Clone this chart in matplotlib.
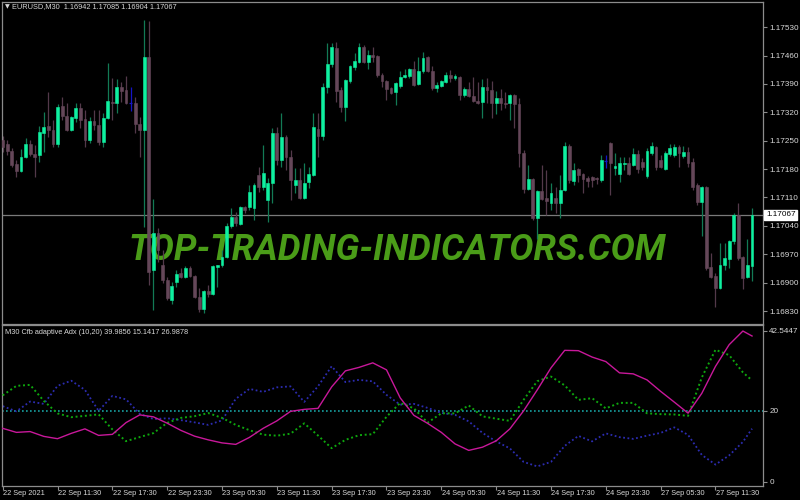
import numpy as np
import matplotlib
matplotlib.use("Agg")
import matplotlib.pyplot as plt
import matplotlib.transforms as mtrans

# EURUSD M30 candles, 22 Sep 05:30 .. 27 Sep 15:30
opens = [1.17252, 1.17242, 1.17224, 1.17192, 1.17175, 1.17210, 1.17242, 1.17217, 1.17214, 1.17269,
         1.17286, 1.17276, 1.17242, 1.17335, 1.17311, 1.17276, 1.17306, 1.17330, 1.17303, 1.17252,
         1.17298, 1.17288, 1.17246, 1.17306, 1.17345, 1.17343, 1.17382, 1.17374, 1.17343, 1.17343,
         1.17291, 1.17276, 1.17456, 1.16931, 1.17022, 1.16943, 1.16906, 1.16857, 1.16901, 1.16924,
         1.16914, 1.16936, 1.16916, 1.16864, 1.16835, 1.16879, 1.16872, 1.16938, 1.16943, 1.16963,
         1.17040, 1.17062, 1.17044, 1.17086, 1.17086, 1.17084, 1.17165, 1.17136, 1.17104, 1.17145,
         1.17269, 1.17202, 1.17259, 1.17210, 1.17141, 1.17153, 1.17109, 1.17148, 1.17165, 1.17279,
         1.17261, 1.17382, 1.17439, 1.17478, 1.17375, 1.17333, 1.17397, 1.17431, 1.17444, 1.17481,
         1.17444, 1.17461, 1.17459, 1.17412, 1.17397, 1.17380, 1.17370, 1.17385, 1.17407, 1.17409,
         1.17426, 1.17390, 1.17422, 1.17456, 1.17422, 1.17380, 1.17385, 1.17394, 1.17412, 1.17404,
         1.17407, 1.17362, 1.17377, 1.17360, 1.17348, 1.17345, 1.17382, 1.17375, 1.17343, 1.17355,
         1.17343, 1.17343, 1.17362, 1.17340, 1.17219, 1.17131, 1.17155, 1.17059, 1.17126, 1.17109,
         1.17096, 1.17109, 1.17096, 1.17128, 1.17237, 1.17150, 1.17180, 1.17168, 1.17158, 1.17160,
         1.17158, 1.17153, 1.17200, 1.17244, 1.17182, 1.17168, 1.17192, 1.17195, 1.17190, 1.17217,
         1.17197, 1.17163, 1.17219, 1.17234, 1.17202, 1.17180, 1.17217, 1.17214, 1.17234, 1.17212,
         1.17222, 1.17197, 1.17141, 1.17099, 1.17136, 1.16938, 1.16916, 1.16887, 1.16943, 1.16958,
         1.17002, 1.17067, 1.16963, 1.16914, 1.16942]
highs = [1.17261, 1.17252, 1.17232, 1.17202, 1.17229, 1.17256, 1.17252, 1.17239, 1.17286, 1.17320,
         1.17370, 1.17301, 1.17340, 1.17357, 1.17343, 1.17311, 1.17343, 1.17343, 1.17325, 1.17308,
         1.17325, 1.17325, 1.17318, 1.17441, 1.17404, 1.17402, 1.17394, 1.17409, 1.17382, 1.17357,
         1.17308, 1.17547, 1.17545, 1.17106, 1.17035, 1.16980, 1.16914, 1.16901, 1.16931, 1.16936,
         1.16941, 1.16941, 1.16919, 1.16887, 1.16882, 1.16894, 1.16943, 1.16943, 1.16980, 1.17047,
         1.17084, 1.17074, 1.17088, 1.17089, 1.17141, 1.17145, 1.17185, 1.17239, 1.17158, 1.17281,
         1.17284, 1.17318, 1.17264, 1.17227, 1.17182, 1.17182, 1.17195, 1.17185, 1.17318, 1.17318,
         1.17392, 1.17491, 1.17491, 1.17493, 1.17382, 1.17401, 1.17436, 1.17466, 1.17491, 1.17486,
         1.17473, 1.17481, 1.17461, 1.17417, 1.17399, 1.17382, 1.17394, 1.17422, 1.17426, 1.17429,
         1.17446, 1.17456, 1.17468, 1.17459, 1.17434, 1.17394, 1.17399, 1.17419, 1.17424, 1.17414,
         1.17409, 1.17382, 1.17394, 1.17407, 1.17394, 1.17402, 1.17404, 1.17397, 1.17372, 1.17377,
         1.17370, 1.17365, 1.17365, 1.17355, 1.17227, 1.17190, 1.17158, 1.17128, 1.17190, 1.17177,
         1.17145, 1.17136, 1.17165, 1.17247, 1.17242, 1.17195, 1.17182, 1.17170, 1.17163, 1.17163,
         1.17160, 1.17214, 1.17214, 1.17247, 1.17219, 1.17210, 1.17210, 1.17210, 1.17232, 1.17227,
         1.17207, 1.17232, 1.17247, 1.17237, 1.17214, 1.17224, 1.17242, 1.17242, 1.17239, 1.17237,
         1.17234, 1.17207, 1.17145, 1.17138, 1.17138, 1.16973, 1.16924, 1.16998, 1.16998, 1.17005,
         1.17072, 1.17096, 1.16965, 1.17007, 1.17085]
lows = [1.17222, 1.17214, 1.17185, 1.17160, 1.17173, 1.17207, 1.17212, 1.17160, 1.17197, 1.17222,
        1.17259, 1.17234, 1.17234, 1.17301, 1.17274, 1.17274, 1.17296, 1.17281, 1.17234, 1.17244,
        1.17276, 1.17239, 1.17234, 1.17303, 1.17301, 1.17318, 1.17345, 1.17340, 1.17323, 1.17269,
        1.17210, 1.17037, 1.16894, 1.16832, 1.16951, 1.16899, 1.16857, 1.16847, 1.16889, 1.16911,
        1.16911, 1.16914, 1.16862, 1.16827, 1.16825, 1.16864, 1.16869, 1.16889, 1.16938, 1.16961,
        1.17035, 1.17040, 1.17042, 1.17071, 1.17079, 1.17054, 1.17123, 1.17128, 1.17049, 1.17096,
        1.17190, 1.17185, 1.17177, 1.17104, 1.17121, 1.17106, 1.17106, 1.17133, 1.17163, 1.17210,
        1.17252, 1.17367, 1.17431, 1.17345, 1.17320, 1.17298, 1.17392, 1.17424, 1.17441, 1.17441,
        1.17426, 1.17444, 1.17407, 1.17382, 1.17350, 1.17365, 1.17338, 1.17380, 1.17405, 1.17404,
        1.17385, 1.17387, 1.17417, 1.17419, 1.17375, 1.17370, 1.17382, 1.17392, 1.17394, 1.17399,
        1.17350, 1.17357, 1.17357, 1.17345, 1.17340, 1.17306, 1.17343, 1.17306, 1.17316, 1.17325,
        1.17330, 1.17301, 1.17281, 1.17185, 1.17121, 1.17128, 1.17054, 1.17007, 1.17104, 1.17067,
        1.17079, 1.17071, 1.17059, 1.17126, 1.17145, 1.17141, 1.17148, 1.17121, 1.17136, 1.17136,
        1.17143, 1.17148, 1.17182, 1.17116, 1.17165, 1.17148, 1.17177, 1.17165, 1.17187, 1.17170,
        1.17177, 1.17158, 1.17214, 1.17177, 1.17182, 1.17177, 1.17212, 1.17210, 1.17185, 1.17207,
        1.17185, 1.17128, 1.17091, 1.17015, 1.16931, 1.16911, 1.16840, 1.16884, 1.16931, 1.16936,
        1.16995, 1.16956, 1.16884, 1.16912, 1.16904]
closes = [1.17234, 1.17224, 1.17190, 1.17175, 1.17210, 1.17242, 1.17217, 1.17210, 1.17271, 1.17284,
          1.17276, 1.17242, 1.17333, 1.17311, 1.17276, 1.17308, 1.17330, 1.17301, 1.17252, 1.17298,
          1.17288, 1.17246, 1.17306, 1.17348, 1.17343, 1.17382, 1.17372, 1.17343, 1.17343, 1.17291,
          1.17276, 1.17456, 1.16926, 1.17022, 1.16980, 1.16906, 1.16862, 1.16892, 1.16921, 1.16914,
          1.16936, 1.16916, 1.16864, 1.16835, 1.16879, 1.16872, 1.16941, 1.16943, 1.16963, 1.17040,
          1.17062, 1.17047, 1.17086, 1.17079, 1.17123, 1.17141, 1.17136, 1.17170, 1.17145, 1.17269,
          1.17202, 1.17259, 1.17210, 1.17153, 1.17153, 1.17109, 1.17145, 1.17168, 1.17284, 1.17261,
          1.17382, 1.17439, 1.17481, 1.17372, 1.17333, 1.17399, 1.17434, 1.17446, 1.17481, 1.17444,
          1.17461, 1.17456, 1.17412, 1.17397, 1.17377, 1.17367, 1.17392, 1.17407, 1.17412, 1.17426,
          1.17387, 1.17422, 1.17454, 1.17422, 1.17380, 1.17387, 1.17397, 1.17412, 1.17404, 1.17409,
          1.17362, 1.17377, 1.17360, 1.17348, 1.17343, 1.17382, 1.17375, 1.17343, 1.17355, 1.17343,
          1.17340, 1.17362, 1.17340, 1.17219, 1.17131, 1.17155, 1.17059, 1.17126, 1.17106, 1.17101,
          1.17121, 1.17096, 1.17128, 1.17237, 1.17153, 1.17177, 1.17165, 1.17155, 1.17150, 1.17153,
          1.17155, 1.17202, 1.17200, 1.17195, 1.17187, 1.17195, 1.17195, 1.17168, 1.17217, 1.17180,
          1.17185, 1.17224, 1.17237, 1.17185, 1.17185, 1.17219, 1.17232, 1.17234, 1.17219, 1.17222,
          1.17195, 1.17136, 1.17099, 1.17136, 1.16936, 1.16914, 1.16887, 1.16943, 1.16961, 1.17002,
          1.17067, 1.16961, 1.16911, 1.16943, 1.17067]

price_ticks = [1.17530, 1.17460, 1.17390, 1.17320, 1.17250, 1.17180, 1.17110, 1.17040, 1.16970, 1.16900, 1.16830]
last_price = 1.17067

time_tick_bars = [0, 12, 24, 36, 48, 60, 72, 84, 96, 108, 120, 132, 144, 156]
time_labels = ['22 Sep 2021', '22 Sep 11:30', '22 Sep 17:30', '22 Sep 23:30', '23 Sep 05:30',
               '23 Sep 11:30', '23 Sep 17:30', '23 Sep 23:30', '24 Sep 05:30', '24 Sep 11:30',
               '24 Sep 17:30', '24 Sep 23:30', '27 Sep 05:30', '27 Sep 11:30']

# Cfb adaptive ADX, read every 3rd bar
ind_bars = list(range(0, 163, 3)) + [164]
adx = [15.00, 13.86, 14.09, 12.73, 12.08, 13.58, 14.85, 13.01, 13.30, 16.62, 18.79, 18.23, 16.45, 14.42,
       12.79, 11.75, 10.90, 10.48, 12.45, 14.99, 17.10, 19.78, 20.34, 20.62, 26.68, 31.18, 32.17, 33.44,
       31.47, 23.58, 18.65, 16.40, 13.86, 10.62, 8.79, 9.69, 11.47, 14.85, 19.92, 25.83, 32.03, 36.96,
       36.87, 35.07, 33.80, 30.62, 30.34, 28.65, 25.41, 22.37, 19.27, 24.85, 32.45, 38.57, 42.40, 41.00]
plus_di = [24.28, 26.96, 27.24, 22.73, 19.21, 18.14, 18.51, 18.93, 14.70, 11.38, 12.54, 13.66, 16.54, 17.94,
           18.42, 19.30, 17.94, 15.97, 14.48, 13.21, 12.93, 13.49, 16.40, 12.99, 9.41, 11.75, 13.07, 13.35,
           18.25, 22.17, 20.62, 16.59, 19.24, 19.21, 21.44, 18.37, 17.72, 17.10, 23.01, 28.28, 29.58, 27.10,
           23.01, 23.49, 20.62, 22.17, 22.17, 19.24, 18.99, 18.90, 18.51, 29.30, 37.13, 35.61, 30.76, 28.50]
minus_di = [21.24, 19.78, 22.54, 21.89, 26.96, 28.42, 25.83, 19.92, 24.14, 23.16, 19.07, 17.61, 17.83, 17.30,
            16.68, 15.97, 17.24, 23.30, 26.11, 25.27, 26.54, 26.82, 22.45, 26.82, 32.48, 28.03, 28.65, 28.23,
            24.42, 21.66, 21.89, 20.76, 19.35, 18.79, 16.96, 13.72, 11.32, 9.35, 5.55, 4.28, 5.55, 10.06,
            12.87, 11.32, 13.58, 12.51, 12.03, 12.93, 13.72, 15.27, 13.16, 7.52, 4.79, 7.38, 11.18, 14.90]
level = 20
ind_ticks = [42.5447, 20, 0]
ind_tick_labels = ['42.5447', '20', '0']

# colours
bg = 'black'
frame = '#8c8c8c'
txt = '#d8d8d8'
bull_body = '#0ff0a0'
bull_wick = '#127a55'
bear_body = '#654759'
bear_wick = '#53394a'
doji_col = '#1414c8'

plt.rcParams['font.family'] = ['Liberation Sans', 'DejaVu Sans']
small = 5.3

fig = plt.figure(figsize=(8, 5), dpi=100, facecolor=bg)
W, H = 800.0, 500.0
ax1 = fig.add_axes([2 / W, 1 - 324 / H, 761 / W, 322 / H], facecolor=bg)
ax2 = fig.add_axes([2 / W, 1 - 485.5 / H, 761 / W, 160.5 / H], facecolor=bg)

n = len(opens)
x = np.arange(n)
o = np.array(opens); h = np.array(highs); l = np.array(lows); c = np.array(closes)
up = c > o
dn = c < o
dj = c == o

# watermark below candles
ax1.text(0.520, 0.231, 'TOP-TRADING-INDICATORS.COM', transform=ax1.transAxes,
         ha='center', va='center', fontsize=26, family='Roboto', weight='bold', style='italic',
         color='#4a9c18', zorder=0.5)

ax1.axhline(last_price, color='#7a7a7a', lw=0.9, zorder=1)

ax1.vlines(x[up], l[up], h[up], color=bull_wick, lw=0.9, zorder=2)
ax1.vlines(x[dn], l[dn], h[dn], color=bear_wick, lw=0.9, zorder=2)
ax1.vlines(x[dj], l[dj], h[dj], color=doji_col, lw=0.9, zorder=2)
ax1.bar(x[up], c[up] - o[up], bottom=o[up], width=0.62, color=bull_body,
        edgecolor=bull_body, linewidth=0.4, zorder=3)
ax1.bar(x[dn], o[dn] - c[dn], bottom=c[dn], width=0.62, color=bear_body,
        edgecolor=bear_body, linewidth=0.4, zorder=3)
ax1.hlines(c[dj], x[dj] - 0.3, x[dj] + 0.3, color=doji_col, lw=0.9, zorder=3)

x_lo, x_hi = -0.15, 166.4
ax1.set_xlim(x_lo, x_hi)
ax1.set_ylim(1.16798, 1.17592)

# indicator window
ax2.axhline(level, color='#18a0a0', lw=1.2, ls=(0, (1, 1.4)), zorder=1)
ax2.plot(ind_bars, minus_di, color='#2c2cb0', lw=1.3, ls=(0, (1, 1.4)), zorder=2)
ax2.plot(ind_bars, plus_di, color='#0ea60e', lw=1.4, ls=(0, (1, 1.4)), zorder=3)
ax2.plot(ind_bars, adx, color='#c8189a', lw=1.0, zorder=4)
ax2.set_xlim(x_lo, x_hi)
ax2.set_ylim(-1.1, 44.1)

for ax in (ax1, ax2):
    for s in ax.spines.values():
        s.set_color(frame)
        s.set_linewidth(0.9)
    ax.yaxis.tick_right()
    ax.tick_params(axis='y', direction='out', length=3, width=0.8, color=frame,
                   labelcolor=txt, labelsize=5.9, pad=1.5)

ax1.set_xticks([])
ax1.set_yticks(price_ticks)
ax1.set_yticklabels(['%.5f' % p for p in price_ticks])

ax2.set_yticks(ind_ticks)
ax2.set_yticklabels(ind_tick_labels)
ax2.set_xticks(time_tick_bars)
ax2.set_xticklabels([])
ax2.tick_params(axis='x', direction='out', length=3, width=0.8, color=frame)
blend = mtrans.blended_transform_factory(ax2.transData, ax2.transAxes)
for b, lab in zip(time_tick_bars, time_labels):
    ax2.text(b + 0.1, -0.025, lab, transform=blend, ha='left', va='top',
             fontsize=small, color=txt, clip_on=False)

# last price box on the price scale
blend1 = mtrans.blended_transform_factory(ax1.transAxes, ax1.transData)
ax1.text(1.004, last_price, '1.17067', transform=blend1, ha='left', va='center',
         fontsize=5.9, color='black', clip_on=False, zorder=10,
         bbox=dict(boxstyle='square,pad=0.2', facecolor='white', edgecolor='white'))

# window captions
fig.text(5 / W, 1 - 7 / H, '\u25bc', fontsize=4.5, color=txt, ha='left', va='center',
         family='DejaVu Sans')
fig.text(12 / W, 1 - 7 / H, 'EURUSD,M30  1.16942 1.17085 1.16904 1.17067', fontsize=small,
         color=txt, ha='left', va='center')
fig.text(5 / W, 1 - 332 / H, 'M30 Cfb adaptive Adx (10,20) 39.9856 15.1417 26.9878', fontsize=small,
         color=txt, ha='left', va='center')

fig.savefig('out.png', dpi=100, facecolor=bg)
